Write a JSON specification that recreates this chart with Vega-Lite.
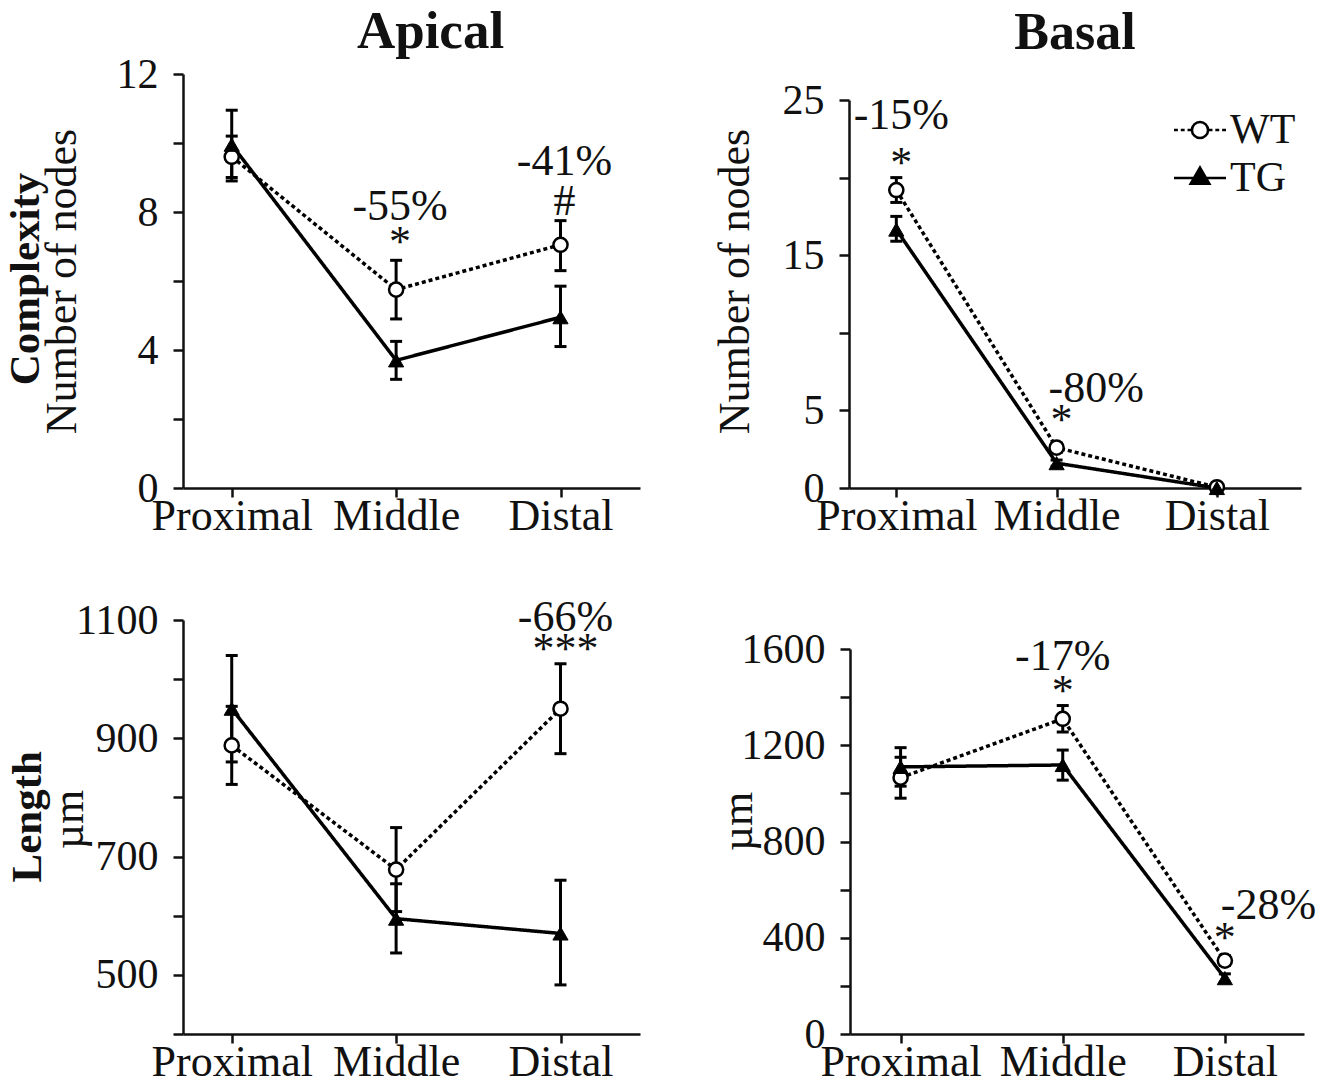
{
  "$schema": "https://vega.github.io/schema/vega-lite/v6.json",
  "background": "white",
  "padding": {"left": 5, "top": 6, "right": 0, "bottom": 0},
  "config": {
    "view": {"stroke": null},
    "font": "Liberation Serif",
    "axis": {"labelFont": "Liberation Serif", "labelFontSize": 42, "labelColor": "#111", "titleFont": "Liberation Serif", "titleFontSize": 44, "titleFontWeight": "normal", "titleColor": "#111", "domainColor": "#111", "domainWidth": 2.5, "tickColor": "#111", "tickWidth": 2.5, "grid": false, "labelOverlap": false, "labelFlush": false},
    "axisY": {"tickSize": 10, "labelPadding": 15},
    "axisX": {"tickSize": 9, "labelPadding": -3, "labelAngle": 0, "labelFontSize": 44},
    "title": {"font": "Liberation Serif", "color": "#111", "fontWeight": "bold"}
  },
  "resolve": {"scale": {"shape": "independent", "fill": "independent", "stroke": "independent"}, "legend": {"shape": "independent", "fill": "independent", "stroke": "independent"}},
  "datasets": {
    "p1": [
      {"seg": "Proximal", "group": "WT", "mean": 9.6, "lo": 9.0, "hi": 10.2},
      {"seg": "Middle", "group": "WT", "mean": 5.75, "lo": 4.9, "hi": 6.6},
      {"seg": "Distal", "group": "WT", "mean": 7.05, "lo": 6.3, "hi": 7.75},
      {"seg": "Proximal", "group": "TG", "mean": 9.95, "lo": 8.9, "hi": 10.95},
      {"seg": "Middle", "group": "TG", "mean": 3.7, "lo": 3.15, "hi": 4.25},
      {"seg": "Distal", "group": "TG", "mean": 4.95, "lo": 4.1, "hi": 5.85}
    ],
    "p2": [
      {"seg": "Proximal", "group": "WT", "mean": 19.2, "lo": 18.4, "hi": 20.0},
      {"seg": "Middle", "group": "WT", "mean": 2.6, "lo": 2.3, "hi": 2.9},
      {"seg": "Distal", "group": "WT", "mean": 0.05, "lo": 0.0, "hi": 0.15},
      {"seg": "Proximal", "group": "TG", "mean": 16.65, "lo": 15.9, "hi": 17.5},
      {"seg": "Middle", "group": "TG", "mean": 1.6, "lo": 1.4, "hi": 1.8},
      {"seg": "Distal", "group": "TG", "mean": 0.0, "lo": 0.0, "hi": 0.1}
    ],
    "p3": [
      {"seg": "Proximal", "group": "WT", "mean": 888, "lo": 822, "hi": 954},
      {"seg": "Middle", "group": "WT", "mean": 678, "lo": 607, "hi": 749},
      {"seg": "Distal", "group": "WT", "mean": 950, "lo": 874, "hi": 1026},
      {"seg": "Proximal", "group": "TG", "mean": 950, "lo": 860, "hi": 1040},
      {"seg": "Middle", "group": "TG", "mean": 595, "lo": 537, "hi": 654},
      {"seg": "Distal", "group": "TG", "mean": 570, "lo": 483, "hi": 660}
    ],
    "p4": [
      {"seg": "Proximal", "group": "WT", "mean": 1065, "lo": 980, "hi": 1150},
      {"seg": "Middle", "group": "WT", "mean": 1310, "lo": 1255, "hi": 1365},
      {"seg": "Distal", "group": "WT", "mean": 305, "lo": 285, "hi": 325},
      {"seg": "Proximal", "group": "TG", "mean": 1110, "lo": 1030, "hi": 1190},
      {"seg": "Middle", "group": "TG", "mean": 1118, "lo": 1055, "hi": 1180},
      {"seg": "Distal", "group": "TG", "mean": 232, "lo": 215, "hi": 250}
    ],
    "a1c": [
      {"seg": "Middle", "y": 7.1, "label": "*"},
      {"seg": "Middle", "y": 8.15, "label": "-55%"},
      {"seg": "Distal", "y": 8.3, "label": "#"},
      {"seg": "Distal", "y": 9.45, "label": "-41%"}
    ],
    "a2c": [
      {"seg": "Proximal", "y": 20.9, "label": "*"},
      {"seg": "Proximal", "y": 24.0, "label": "-15%"},
      {"seg": "Middle", "y": 4.3, "label": "*"}
    ],
    "a2l": [
      {"seg": "Middle", "y": 6.4, "label": "-80%"}
    ],
    "a3c": [
      {"seg": "Distal", "y": 1050, "label": "***"},
      {"seg": "Distal", "y": 1104, "label": "-66%"}
    ],
    "a4c": [
      {"seg": "Middle", "y": 1420, "label": "*"},
      {"seg": "Middle", "y": 1567, "label": "-17%"},
      {"seg": "Distal", "y": 395, "label": "*"}
    ],
    "a4l": [
      {"seg": "Distal", "y": 530, "label": "-28%"}
    ]
  },
  "spacing": 57,
  "vconcat": [
    {
      "title": {"text": "Complexity", "orient": "left", "anchor": "middle", "frame": "bounds", "fontSize": 43, "fontWeight": "bold", "offset": -8, "dx": -7},
      "bounds": "flush",
      "spacing": 209,
      "resolve": {"scale": {"shape": "independent", "fill": "independent", "stroke": "independent"}, "legend": {"shape": "independent", "fill": "independent", "stroke": "independent"}},
      "hconcat": [
        {
          "width": 457, "height": 414,
          "title": {"text": "Apical", "fontSize": 53, "frame": "group", "baseline": "alphabetic", "offset": -48, "dx": 19},
          "encoding": {"x": {"field": "seg", "type": "ordinal", "sort": ["Proximal", "Middle", "Distal"], "scale": {"type": "point", "padding": 0.39, "align": 0.38}, "axis": {"title": null}}},
          "layer": [
            {"data": {"name": "p1"}, "mark": {"type": "line", "color": "black", "strokeWidth": 3.5},
             "encoding": {"y": {"field": "mean", "type": "quantitative", "scale": {"domain": [0, 12], "nice": false}, "axis": {"title": "Number of nodes", "titlePadding": 32, "values": [0, 2, 4, 6, 8, 10, 12], "labelExpr": "datum.value % 4 === 0 ? datum.label : ''"}},
               "strokeDash": {"field": "group", "type": "nominal", "scale": {"domain": ["WT", "TG"], "range": [[4, 3], [1, 0]]}, "legend": null}}},
            {"data": {"name": "p1"}, "mark": {"type": "rule", "color": "black", "strokeWidth": 3},
             "encoding": {"y": {"field": "lo", "type": "quantitative", "scale": {"domain": [0, 12], "nice": false}, "axis": {"title": "Number of nodes", "titlePadding": 32, "values": [0, 2, 4, 6, 8, 10, 12], "labelExpr": "datum.value % 4 === 0 ? datum.label : ''"}}, "y2": {"field": "hi"}}},
            {"data": {"name": "p1"}, "mark": {"type": "tick", "color": "black", "thickness": 3, "size": 12, "orient": "horizontal", "opacity": 1},
             "encoding": {"y": {"field": "lo", "type": "quantitative", "scale": {"domain": [0, 12], "nice": false}, "axis": {"title": "Number of nodes", "titlePadding": 32, "values": [0, 2, 4, 6, 8, 10, 12], "labelExpr": "datum.value % 4 === 0 ? datum.label : ''"}}}},
            {"data": {"name": "p1"}, "mark": {"type": "tick", "color": "black", "thickness": 3, "size": 12, "orient": "horizontal", "opacity": 1},
             "encoding": {"y": {"field": "hi", "type": "quantitative", "scale": {"domain": [0, 12], "nice": false}, "axis": {"title": "Number of nodes", "titlePadding": 32, "values": [0, 2, 4, 6, 8, 10, 12], "labelExpr": "datum.value % 4 === 0 ? datum.label : ''"}}}},
            {"data": {"name": "p1"}, "transform": [{"filter": "datum.group === 'WT'"}], "mark": {"type": "point", "shape": "circle", "filled": true, "fill": "white", "stroke": "black", "strokeWidth": 2.5, "size": 200, "opacity": 1},
             "encoding": {"y": {"field": "mean", "type": "quantitative", "scale": {"domain": [0, 12], "nice": false}, "axis": {"title": "Number of nodes", "titlePadding": 32, "values": [0, 2, 4, 6, 8, 10, 12], "labelExpr": "datum.value % 4 === 0 ? datum.label : ''"}}}},
            {"data": {"name": "p1"}, "transform": [{"filter": "datum.group === 'TG'"}], "mark": {"type": "point", "shape": "triangle-up", "filled": true, "fill": "black", "stroke": "black", "strokeWidth": 1, "size": 230, "opacity": 1},
             "encoding": {"y": {"field": "mean", "type": "quantitative", "scale": {"domain": [0, 12], "nice": false}, "axis": {"title": "Number of nodes", "titlePadding": 32, "values": [0, 2, 4, 6, 8, 10, 12], "labelExpr": "datum.value % 4 === 0 ? datum.label : ''"}}}},
            {"data": {"name": "a1c"}, "mark": {"type": "text", "fontSize": 44, "font": "Liberation Serif", "color": "#111", "baseline": "middle", "align": "center", "dx": 4},
             "encoding": {"y": {"field": "y", "type": "quantitative", "scale": {"domain": [0, 12], "nice": false}, "axis": {"title": "Number of nodes", "titlePadding": 32, "values": [0, 2, 4, 6, 8, 10, 12], "labelExpr": "datum.value % 4 === 0 ? datum.label : ''"}}, "text": {"field": "label"}}}
          ]
        },
        {
          "width": 452, "height": 414,
          "title": {"text": "Basal", "fontSize": 52, "frame": "group", "baseline": "alphabetic", "offset": -27},
          "encoding": {"x": {"field": "seg", "type": "ordinal", "sort": ["Proximal", "Middle", "Distal"], "scale": {"type": "point", "padding": 0.41, "align": 0.36}, "axis": {"title": null}}},
          "layer": [
            {"data": {"name": "p2"}, "mark": {"type": "line", "color": "black", "strokeWidth": 3.5},
             "encoding": {"y": {"field": "mean", "type": "quantitative", "scale": {"domain": [0, 25], "nice": false, "range": [414, 26]}, "axis": {"title": "Number of nodes", "titlePadding": 25, "titleY": 207, "values": [0, 5, 10, 15, 20, 25], "labelExpr": "indexof([0, 5, 15, 25], datum.value) >= 0 ? datum.label : ''"}},
               "strokeDash": {"field": "group", "type": "nominal", "scale": {"domain": ["WT", "TG"], "range": [[4, 3], [1, 0]]}, "legend": null}}},
            {"data": {"name": "p2"}, "mark": {"type": "rule", "color": "black", "strokeWidth": 3},
             "encoding": {"y": {"field": "lo", "type": "quantitative", "scale": {"domain": [0, 25], "nice": false, "range": [414, 26]}, "axis": {"title": "Number of nodes", "titlePadding": 25, "titleY": 207, "values": [0, 5, 10, 15, 20, 25], "labelExpr": "indexof([0, 5, 15, 25], datum.value) >= 0 ? datum.label : ''"}}, "y2": {"field": "hi"}}},
            {"data": {"name": "p2"}, "mark": {"type": "tick", "color": "black", "thickness": 3, "size": 12, "orient": "horizontal", "opacity": 1},
             "encoding": {"y": {"field": "lo", "type": "quantitative", "scale": {"domain": [0, 25], "nice": false, "range": [414, 26]}, "axis": {"title": "Number of nodes", "titlePadding": 25, "titleY": 207, "values": [0, 5, 10, 15, 20, 25], "labelExpr": "indexof([0, 5, 15, 25], datum.value) >= 0 ? datum.label : ''"}}}},
            {"data": {"name": "p2"}, "mark": {"type": "tick", "color": "black", "thickness": 3, "size": 12, "orient": "horizontal", "opacity": 1},
             "encoding": {"y": {"field": "hi", "type": "quantitative", "scale": {"domain": [0, 25], "nice": false, "range": [414, 26]}, "axis": {"title": "Number of nodes", "titlePadding": 25, "titleY": 207, "values": [0, 5, 10, 15, 20, 25], "labelExpr": "indexof([0, 5, 15, 25], datum.value) >= 0 ? datum.label : ''"}}}},
            {"data": {"name": "p2"}, "transform": [{"filter": "datum.group === 'WT'"}], "mark": {"type": "point", "shape": "circle", "filled": true, "fill": "white", "stroke": "black", "strokeWidth": 2.5, "size": 200, "opacity": 1},
             "encoding": {"y": {"field": "mean", "type": "quantitative", "scale": {"domain": [0, 25], "nice": false, "range": [414, 26]}, "axis": {"title": "Number of nodes", "titlePadding": 25, "titleY": 207, "values": [0, 5, 10, 15, 20, 25], "labelExpr": "indexof([0, 5, 15, 25], datum.value) >= 0 ? datum.label : ''"}}}},
            {"data": {"name": "p2"}, "transform": [{"filter": "datum.group === 'TG'"}], "mark": {"type": "point", "shape": "triangle-up", "filled": true, "fill": "black", "stroke": "black", "strokeWidth": 1, "size": 230, "opacity": 1},
             "encoding": {"y": {"field": "mean", "type": "quantitative", "scale": {"domain": [0, 25], "nice": false, "range": [414, 26]}, "axis": {"title": "Number of nodes", "titlePadding": 25, "titleY": 207, "values": [0, 5, 10, 15, 20, 25], "labelExpr": "indexof([0, 5, 15, 25], datum.value) >= 0 ? datum.label : ''"}}}},
            {"data": {"name": "a2c"}, "mark": {"type": "text", "fontSize": 44, "font": "Liberation Serif", "color": "#111", "baseline": "middle", "align": "center", "dx": 5},
             "encoding": {"y": {"field": "y", "type": "quantitative", "scale": {"domain": [0, 25], "nice": false, "range": [414, 26]}, "axis": {"title": "Number of nodes", "titlePadding": 25, "titleY": 207, "values": [0, 5, 10, 15, 20, 25], "labelExpr": "indexof([0, 5, 15, 25], datum.value) >= 0 ? datum.label : ''"}}, "text": {"field": "label"}}},
            {"data": {"name": "a2l"}, "mark": {"type": "text", "fontSize": 44, "font": "Liberation Serif", "color": "#111", "baseline": "middle", "align": "left", "dx": -8},
             "encoding": {"y": {"field": "y", "type": "quantitative", "scale": {"domain": [0, 25], "nice": false, "range": [414, 26]}, "axis": {"title": "Number of nodes", "titlePadding": 25, "titleY": 207, "values": [0, 5, 10, 15, 20, 25], "labelExpr": "indexof([0, 5, 15, 25], datum.value) >= 0 ? datum.label : ''"}}, "text": {"field": "label"}}},
            {"data": {"name": "p2"}, "mark": {"type": "point", "filled": false, "strokeWidth": 2.5, "opacity": 1, "size": 0},
             "encoding": {
               "y": {"field": "mean", "type": "quantitative", "scale": {"domain": [0, 25], "nice": false, "range": [414, 26]}, "axis": {"title": "Number of nodes", "titlePadding": 25, "titleY": 207, "values": [0, 5, 10, 15, 20, 25], "labelExpr": "indexof([0, 5, 15, 25], datum.value) >= 0 ? datum.label : ''"}},
               "shape": {"field": "group", "type": "nominal", "scale": {"domain": ["WT", "TG"], "range": ["M-2,0H-1.7M-1.48,0H-1.18M-0.96,0H-0.7M0.62,0A0.62 0.62 0 1 1 -0.62,0A0.62 0.62 0 1 1 0.62,0ZM0.7,0H0.96M1.18,0H1.48M1.7,0H2", "M-2,0H2M0,-0.8L0.72,0.45L-0.72,0.45Z"]},
                 "legend": {"title": null, "orient": "none", "legendX": 330, "legendY": 35, "symbolSize": 676, "symbolStrokeWidth": 2.5, "labelFont": "Liberation Serif", "labelFontSize": 42, "labelColor": "#111", "labelOffset": 9, "rowPadding": 6, "symbolOpacity": 1}},
               "fill": {"field": "group", "type": "nominal", "scale": {"domain": ["WT", "TG"], "range": ["white", "black"]},
                 "legend": {"title": null, "orient": "none", "legendX": 330, "legendY": 35, "symbolSize": 676, "symbolStrokeWidth": 2.5, "labelFont": "Liberation Serif", "labelFontSize": 42, "labelColor": "#111", "labelOffset": 9, "rowPadding": 6, "symbolOpacity": 1}},
               "stroke": {"field": "group", "type": "nominal", "scale": {"domain": ["WT", "TG"], "range": ["black", "black"]},
                 "legend": {"title": null, "orient": "none", "legendX": 330, "legendY": 35, "symbolSize": 676, "symbolStrokeWidth": 2.5, "labelFont": "Liberation Serif", "labelFontSize": 42, "labelColor": "#111", "labelOffset": 9, "rowPadding": 6, "symbolOpacity": 1}}
             }}
          ]
        }
      ]
    },
    {
      "title": {"text": "Length", "orient": "left", "anchor": "middle", "frame": "bounds", "fontSize": 43, "fontWeight": "bold", "offset": -2, "dx": 23},
      "bounds": "flush",
      "spacing": 210,
      "hconcat": [
        {
          "width": 457, "height": 414,
          "encoding": {"x": {"field": "seg", "type": "ordinal", "sort": ["Proximal", "Middle", "Distal"], "scale": {"type": "point", "padding": 0.39, "align": 0.38}, "axis": {"title": null}}},
          "layer": [
            {"data": {"name": "p3"}, "mark": {"type": "line", "color": "black", "strokeWidth": 3.5},
             "encoding": {"y": {"field": "mean", "type": "quantitative", "scale": {"domain": [400, 1100], "nice": false, "zero": false}, "axis": {"title": "µm", "titlePadding": -16, "titleY": 199, "format": "d", "values": [400, 500, 600, 700, 800, 900, 1000, 1100], "labelExpr": "indexof([500, 700, 900, 1100], datum.value) >= 0 ? datum.label : ''"}},
               "strokeDash": {"field": "group", "type": "nominal", "scale": {"domain": ["WT", "TG"], "range": [[4, 3], [1, 0]]}, "legend": null}}},
            {"data": {"name": "p3"}, "mark": {"type": "rule", "color": "black", "strokeWidth": 3},
             "encoding": {"y": {"field": "lo", "type": "quantitative", "scale": {"domain": [400, 1100], "nice": false, "zero": false}, "axis": {"title": "µm", "titlePadding": -16, "titleY": 199, "format": "d", "values": [400, 500, 600, 700, 800, 900, 1000, 1100], "labelExpr": "indexof([500, 700, 900, 1100], datum.value) >= 0 ? datum.label : ''"}}, "y2": {"field": "hi"}}},
            {"data": {"name": "p3"}, "mark": {"type": "tick", "color": "black", "thickness": 3, "size": 12, "orient": "horizontal", "opacity": 1},
             "encoding": {"y": {"field": "lo", "type": "quantitative", "scale": {"domain": [400, 1100], "nice": false, "zero": false}, "axis": {"title": "µm", "titlePadding": -16, "titleY": 199, "format": "d", "values": [400, 500, 600, 700, 800, 900, 1000, 1100], "labelExpr": "indexof([500, 700, 900, 1100], datum.value) >= 0 ? datum.label : ''"}}}},
            {"data": {"name": "p3"}, "mark": {"type": "tick", "color": "black", "thickness": 3, "size": 12, "orient": "horizontal", "opacity": 1},
             "encoding": {"y": {"field": "hi", "type": "quantitative", "scale": {"domain": [400, 1100], "nice": false, "zero": false}, "axis": {"title": "µm", "titlePadding": -16, "titleY": 199, "format": "d", "values": [400, 500, 600, 700, 800, 900, 1000, 1100], "labelExpr": "indexof([500, 700, 900, 1100], datum.value) >= 0 ? datum.label : ''"}}}},
            {"data": {"name": "p3"}, "transform": [{"filter": "datum.group === 'WT'"}], "mark": {"type": "point", "shape": "circle", "filled": true, "fill": "white", "stroke": "black", "strokeWidth": 2.5, "size": 200, "opacity": 1},
             "encoding": {"y": {"field": "mean", "type": "quantitative", "scale": {"domain": [400, 1100], "nice": false, "zero": false}, "axis": {"title": "µm", "titlePadding": -16, "titleY": 199, "format": "d", "values": [400, 500, 600, 700, 800, 900, 1000, 1100], "labelExpr": "indexof([500, 700, 900, 1100], datum.value) >= 0 ? datum.label : ''"}}}},
            {"data": {"name": "p3"}, "transform": [{"filter": "datum.group === 'TG'"}], "mark": {"type": "point", "shape": "triangle-up", "filled": true, "fill": "black", "stroke": "black", "strokeWidth": 1, "size": 230, "opacity": 1},
             "encoding": {"y": {"field": "mean", "type": "quantitative", "scale": {"domain": [400, 1100], "nice": false, "zero": false}, "axis": {"title": "µm", "titlePadding": -16, "titleY": 199, "format": "d", "values": [400, 500, 600, 700, 800, 900, 1000, 1100], "labelExpr": "indexof([500, 700, 900, 1100], datum.value) >= 0 ? datum.label : ''"}}}},
            {"data": {"name": "a3c"}, "mark": {"type": "text", "fontSize": 44, "font": "Liberation Serif", "color": "#111", "baseline": "middle", "align": "center", "dx": 5},
             "encoding": {"y": {"field": "y", "type": "quantitative", "scale": {"domain": [400, 1100], "nice": false, "zero": false}, "axis": {"title": "µm", "titlePadding": -16, "titleY": 199, "format": "d", "values": [400, 500, 600, 700, 800, 900, 1000, 1100], "labelExpr": "indexof([500, 700, 900, 1100], datum.value) >= 0 ? datum.label : ''"}}, "text": {"field": "label"}}}
          ]
        },
        {
          "width": 454, "height": 414,
          "encoding": {"x": {"field": "seg", "type": "ordinal", "sort": ["Proximal", "Middle", "Distal"], "scale": {"type": "point", "padding": 0.4, "align": 0.39}, "axis": {"title": null}}},
          "layer": [
            {"data": {"name": "p4"}, "mark": {"type": "line", "color": "black", "strokeWidth": 3.5},
             "encoding": {"y": {"field": "mean", "type": "quantitative", "scale": {"domain": [0, 1600], "nice": false, "range": [414, 29]}, "axis": {"title": "µm", "titlePadding": -19, "titleY": 201, "format": "d", "values": [0, 200, 400, 600, 800, 1000, 1200, 1400, 1600], "labelExpr": "datum.value % 400 === 0 ? datum.label : ''"}},
               "strokeDash": {"field": "group", "type": "nominal", "scale": {"domain": ["WT", "TG"], "range": [[4, 3], [1, 0]]}, "legend": null}}},
            {"data": {"name": "p4"}, "mark": {"type": "rule", "color": "black", "strokeWidth": 3},
             "encoding": {"y": {"field": "lo", "type": "quantitative", "scale": {"domain": [0, 1600], "nice": false, "range": [414, 29]}, "axis": {"title": "µm", "titlePadding": -19, "titleY": 201, "format": "d", "values": [0, 200, 400, 600, 800, 1000, 1200, 1400, 1600], "labelExpr": "datum.value % 400 === 0 ? datum.label : ''"}}, "y2": {"field": "hi"}}},
            {"data": {"name": "p4"}, "mark": {"type": "tick", "color": "black", "thickness": 3, "size": 12, "orient": "horizontal", "opacity": 1},
             "encoding": {"y": {"field": "lo", "type": "quantitative", "scale": {"domain": [0, 1600], "nice": false, "range": [414, 29]}, "axis": {"title": "µm", "titlePadding": -19, "titleY": 201, "format": "d", "values": [0, 200, 400, 600, 800, 1000, 1200, 1400, 1600], "labelExpr": "datum.value % 400 === 0 ? datum.label : ''"}}}},
            {"data": {"name": "p4"}, "mark": {"type": "tick", "color": "black", "thickness": 3, "size": 12, "orient": "horizontal", "opacity": 1},
             "encoding": {"y": {"field": "hi", "type": "quantitative", "scale": {"domain": [0, 1600], "nice": false, "range": [414, 29]}, "axis": {"title": "µm", "titlePadding": -19, "titleY": 201, "format": "d", "values": [0, 200, 400, 600, 800, 1000, 1200, 1400, 1600], "labelExpr": "datum.value % 400 === 0 ? datum.label : ''"}}}},
            {"data": {"name": "p4"}, "transform": [{"filter": "datum.group === 'WT'"}], "mark": {"type": "point", "shape": "circle", "filled": true, "fill": "white", "stroke": "black", "strokeWidth": 2.5, "size": 200, "opacity": 1},
             "encoding": {"y": {"field": "mean", "type": "quantitative", "scale": {"domain": [0, 1600], "nice": false, "range": [414, 29]}, "axis": {"title": "µm", "titlePadding": -19, "titleY": 201, "format": "d", "values": [0, 200, 400, 600, 800, 1000, 1200, 1400, 1600], "labelExpr": "datum.value % 400 === 0 ? datum.label : ''"}}}},
            {"data": {"name": "p4"}, "transform": [{"filter": "datum.group === 'TG'"}], "mark": {"type": "point", "shape": "triangle-up", "filled": true, "fill": "black", "stroke": "black", "strokeWidth": 1, "size": 230, "opacity": 1},
             "encoding": {"y": {"field": "mean", "type": "quantitative", "scale": {"domain": [0, 1600], "nice": false, "range": [414, 29]}, "axis": {"title": "µm", "titlePadding": -19, "titleY": 201, "format": "d", "values": [0, 200, 400, 600, 800, 1000, 1200, 1400, 1600], "labelExpr": "datum.value % 400 === 0 ? datum.label : ''"}}}},
            {"data": {"name": "a4c"}, "mark": {"type": "text", "fontSize": 44, "font": "Liberation Serif", "color": "#111", "baseline": "middle", "align": "center"},
             "encoding": {"y": {"field": "y", "type": "quantitative", "scale": {"domain": [0, 1600], "nice": false, "range": [414, 29]}, "axis": {"title": "µm", "titlePadding": -19, "titleY": 201, "format": "d", "values": [0, 200, 400, 600, 800, 1000, 1200, 1400, 1600], "labelExpr": "datum.value % 400 === 0 ? datum.label : ''"}}, "text": {"field": "label"}}},
            {"data": {"name": "a4l"}, "mark": {"type": "text", "fontSize": 44, "font": "Liberation Serif", "color": "#111", "baseline": "middle", "align": "left", "dx": -4},
             "encoding": {"y": {"field": "y", "type": "quantitative", "scale": {"domain": [0, 1600], "nice": false, "range": [414, 29]}, "axis": {"title": "µm", "titlePadding": -19, "titleY": 201, "format": "d", "values": [0, 200, 400, 600, 800, 1000, 1200, 1400, 1600], "labelExpr": "datum.value % 400 === 0 ? datum.label : ''"}}, "text": {"field": "label"}}}
          ]
        }
      ]
    }
  ]
}
